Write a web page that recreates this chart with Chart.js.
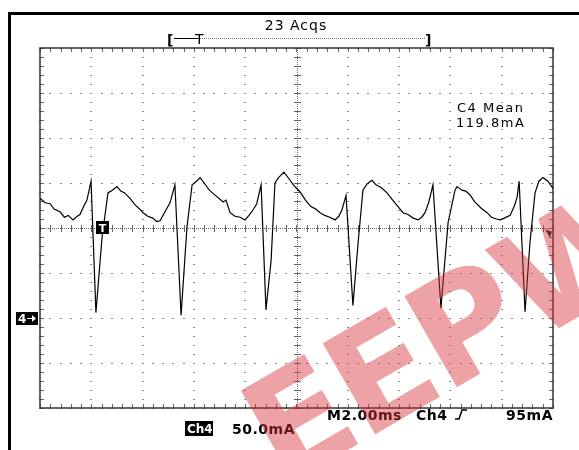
<!DOCTYPE html>
<html>
<head>
<meta charset="utf-8">
<title>Ch4 current</title>
<script src="https://cdn.jsdelivr.net/npm/chart.js@4.4.0/dist/chart.umd.min.js"></script>
<style>
  body { margin: 0; background: #fff; }
  canvas { display: block; }
</style>
</head>
<body>
<canvas id="scope" width="579" height="450"></canvas>
<script>
// Ch4 trace: time in ms, current in mA
const timeMs = [
  0.00, 0.20, 0.39, 0.55, 0.78, 0.95, 1.10, 1.29, 1.45, 1.56, 1.70, 1.83, 1.99, 2.18, 2.42, 2.65, 2.82,
  3.00, 3.15, 3.30, 3.51, 3.70, 3.85, 4.02, 4.20, 4.40, 4.55, 4.68, 4.85, 5.07, 5.26, 5.50, 5.73, 5.93,
  6.10, 6.24, 6.40, 6.60, 6.85, 7.14, 7.25, 7.41, 7.60, 7.80, 7.99, 8.15, 8.30, 8.45, 8.62, 8.81, 9.01,
  9.16, 9.30, 9.51, 9.70, 9.90, 10.14, 10.35, 10.55, 10.75, 10.92, 11.10, 11.30, 11.50, 11.65, 11.77,
  11.93, 12.20, 12.40, 12.59, 12.75, 12.94, 13.10, 13.30, 13.53, 13.75, 13.95, 14.15, 14.35, 14.55,
  14.74, 14.88, 15.01, 15.15, 15.32, 15.63, 15.91, 16.18, 16.26, 16.45, 16.60, 16.76, 16.95, 17.20,
  17.43, 17.60, 17.80, 17.94, 18.10, 18.33, 18.50, 18.60, 18.68, 18.91, 19.10, 19.30, 19.45, 19.61,
  19.80, 20.00
];
const currentMa = [
  133, 128, 127, 121, 118, 112, 114, 109, 113, 115, 124, 131, 152, 6, 90, 139, 142,
  146, 141, 139, 133, 126, 122, 117, 113, 111, 107, 108, 117, 128, 148, 3, 101, 148,
  152, 156, 150, 142, 136, 129, 131, 117, 113, 112, 109, 114, 120, 127, 148, 9, 64,
  150, 156, 162, 155, 147, 140, 131, 124, 121, 117, 114, 112, 109, 113, 120,
  136, 14, 83, 142, 149, 153, 148, 145, 139, 131, 124, 117, 115, 111,
  109, 112, 117, 128, 148, 11, 106, 142, 146, 142, 141, 137, 129, 122,
  117, 112, 110, 109, 111, 114, 125, 134, 152, 7, 83, 139, 152, 156,
  152, 144
];

// graticule divisions: 2 ms/div, 50 mA/div
const timeDivs = [0, 2, 4, 6, 8, 10, 12, 14, 16, 18, 20];
const currentDivs = [-100, -50, 0, 50, 100, 150, 200, 250, 300];
const triggerLevel = 95;

// readouts
const acqText = '23 Acqs';
const measText = ['C4 Mean', '119.8mA'];
const timebaseText = 'M2.00ms';
const trigSource = 'Ch4';
const trigText = '95mA';
const chanText = 'Ch4';
const scaleText = '50.0mA';
const stampText = 'EEPW';

const FONT = '"DejaVu Sans", sans-serif';

const graticule = {
  id: 'graticule',
  beforeDatasetsDraw(chart) {
    const { ctx, chartArea: a, scales: { x, y } } = chart;
    const subX = (x.getPixelForValue(2) - x.getPixelForValue(0)) / 5;
    const subY = (y.getPixelForValue(0) - y.getPixelForValue(50)) / 5;
    ctx.save();

    // outer frame
    ctx.fillStyle = '#000';
    ctx.fillRect(8, 12, 3, 438);
    ctx.fillRect(8, 12, 571, 3);

    // dotted division lines
    ctx.fillStyle = '#8a8a8a';
    timeDivs.forEach(t => {
      const px = Math.round(x.getPixelForValue(t));
      for (let py = a.top; py <= a.bottom + 0.5; py += subY) ctx.fillRect(px - 1, Math.round(py), 2, 1);
    });
    currentDivs.forEach(v => {
      const py = Math.round(y.getPixelForValue(v));
      for (let px = a.left; px <= a.right + 0.5; px += subX) ctx.fillRect(Math.round(px) - 1, py, 2, 1);
    });

    // centre axes with minor ticks
    const cx = Math.round(x.getPixelForValue(10));
    const cy = Math.round(y.getPixelForValue(100));
    ctx.fillStyle = '#666';
    for (let px = a.left; px <= a.right; px += 2) ctx.fillRect(px, cy, 1, 1);
    for (let py = a.top; py <= a.bottom; py += 2) ctx.fillRect(cx, py, 1, 1);
    for (let px = a.left; px <= a.right + 0.5; px += subX) ctx.fillRect(Math.round(px), cy - 3, 1, 7);
    for (let py = a.top; py <= a.bottom + 0.5; py += subY) ctx.fillRect(cx - 3, Math.round(py), 7, 1);

    // border ticks
    for (let px = a.left; px <= a.right + 0.5; px += subX) {
      ctx.fillRect(Math.round(px), a.top, 1, 4);
      ctx.fillRect(Math.round(px), a.bottom - 4, 1, 4);
    }
    for (let py = a.top; py <= a.bottom + 0.5; py += subY) {
      ctx.fillRect(a.left, Math.round(py), 4, 1);
      ctx.fillRect(a.right - 4, Math.round(py), 4, 1);
    }

    // border
    ctx.strokeStyle = '#333';
    ctx.lineWidth = 1.5;
    ctx.strokeRect(a.left, a.top, a.right - a.left, a.bottom - a.top);
    ctx.restore();
  }
};

const readouts = {
  id: 'readouts',
  afterDraw(chart) {
    const { ctx, chartArea: a, scales: { x, y } } = chart;
    ctx.save();
    ctx.textBaseline = 'alphabetic';
    ctx.fillStyle = '#000';

    // acquisition count
    ctx.font = '14px ' + FONT;
    ctx.letterSpacing = '1px';
    ctx.textAlign = 'center';
    ctx.fillText(acqText, 296, 30);

    // record bracket with trigger position
    ctx.textAlign = 'left';
    ctx.letterSpacing = '0px';
    ctx.font = 'bold 14px ' + FONT;
    ctx.fillText('[', 167, 45);
    ctx.fillText(']', 425, 45);
    ctx.fillStyle = '#777';
    for (let px = 174; px < 425; px += 2) ctx.fillRect(px, 38, 1, 1);
    ctx.fillStyle = '#000';
    ctx.fillRect(174, 38, 24, 1);
    ctx.font = '14px ' + FONT;
    ctx.fillText('T', 195, 44);

    // measurement box
    ctx.font = '13px ' + FONT;
    ctx.letterSpacing = '1.5px';
    ctx.fillText(measText[0], 457, 112);
    ctx.fillText(measText[1], 456, 127);

    // timebase and trigger readout
    ctx.font = 'bold 14px ' + FONT;
    ctx.letterSpacing = '0.5px';
    ctx.fillText(timebaseText, 327, 420);
    ctx.fillText(trigSource, 416, 420);
    ctx.textAlign = 'right';
    ctx.fillText(trigText, 553, 420);
    ctx.textAlign = 'left';
    ctx.strokeStyle = '#000';
    ctx.lineWidth = 1.5;
    ctx.beginPath();
    ctx.moveTo(455, 419);
    ctx.lineTo(459, 419);
    ctx.lineTo(462, 410);
    ctx.lineTo(467, 410);
    ctx.stroke();

    // channel scale
    ctx.fillRect(185, 421, 28, 15);
    ctx.fillStyle = '#fff';
    ctx.font = 'bold 12px ' + FONT;
    ctx.letterSpacing = '0px';
    ctx.fillText(chanText, 187, 433);
    ctx.fillStyle = '#000';
    ctx.font = 'bold 14px ' + FONT;
    ctx.letterSpacing = '0.5px';
    ctx.fillText(scaleText, 232, 434);

    // ground marker
    const gy = Math.round(y.getPixelForValue(0));
    ctx.fillRect(16, gy - 6, 22, 13);
    ctx.fillStyle = '#fff';
    ctx.font = 'bold 12px ' + FONT;
    ctx.letterSpacing = '0px';
    ctx.fillText('4', 18, gy + 5);
    ctx.fillRect(27, gy, 7, 1);
    ctx.beginPath();
    ctx.moveTo(36, gy + 0.5);
    ctx.lineTo(32, gy - 3);
    ctx.lineTo(32, gy + 4);
    ctx.fill();

    // trigger point marker on the trace
    const tx = Math.round(x.getPixelForValue(2.4));
    const ty = Math.round(y.getPixelForValue(100));
    ctx.fillStyle = '#000';
    ctx.fillRect(tx - 6, ty - 7, 13, 13);
    ctx.fillStyle = '#fff';
    ctx.font = 'bold 11px ' + FONT;
    ctx.textAlign = 'center';
    ctx.fillText('T', tx + 0.5, ty + 4);

    // trigger level arrow on the right edge
    const ly = y.getPixelForValue(triggerLevel);
    ctx.fillStyle = '#222';
    ctx.beginPath();
    ctx.moveTo(a.right - 8, ly - 3);
    ctx.lineTo(a.right - 1, ly - 1);
    ctx.lineTo(a.right - 3, ly + 5);
    ctx.fill();

    // site stamp across the lower right
    ctx.translate(282, 488);
    ctx.rotate(-30 * Math.PI / 180);
    ctx.font = 'bold 144px ' + FONT;
    ctx.textAlign = 'left';
    ctx.letterSpacing = '-4px';
    ctx.fillStyle = 'rgba(214, 48, 58, 0.45)';
    ctx.fillText(stampText, 0, 0);
    ctx.restore();
  }
};

new Chart(document.getElementById('scope'), {
  type: 'line',
  data: {
    datasets: [{
      label: 'Ch4',
      data: timeMs.map((t, i) => ({ x: t, y: currentMa[i] })),
      borderColor: '#000',
      borderWidth: 1.2,
      pointRadius: 0,
      tension: 0,
      fill: false
    }]
  },
  options: {
    responsive: false,
    animation: false,
    devicePixelRatio: 1,
    layout: { padding: { left: 40, right: 26, top: 48, bottom: 42 } },
    plugins: { legend: { display: false }, tooltip: { enabled: false } },
    scales: {
      x: { type: 'linear', min: 0, max: 20, display: false },
      y: { type: 'linear', min: -100, max: 300, display: false }
    }
  },
  plugins: [graticule, readouts]
});
</script>
</body>
</html>
